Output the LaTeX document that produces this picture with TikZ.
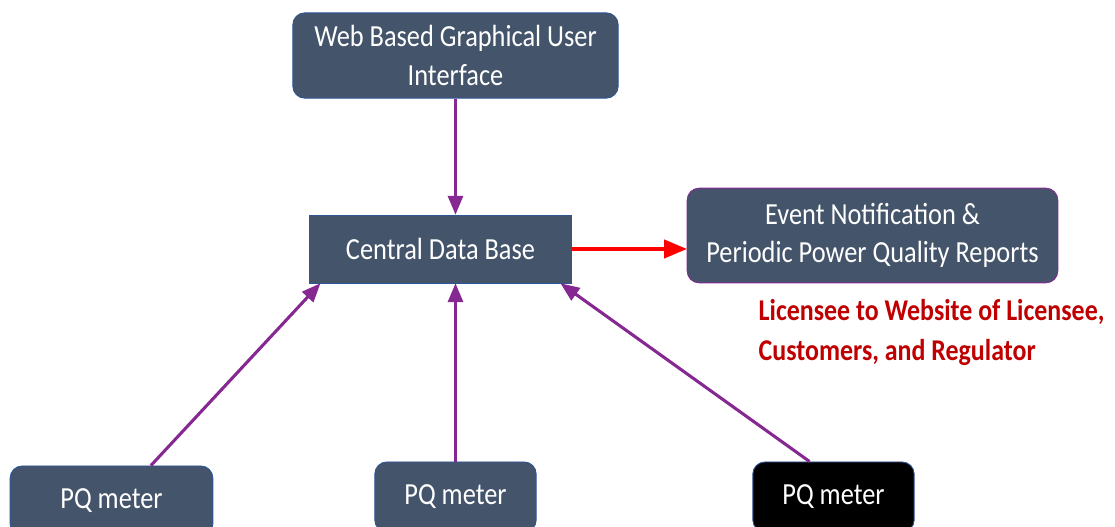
\documentclass[tikz,border=0pt]{standalone}
\usepackage{fontspec}
\setmainfont{Carlito}[FakeStretch=0.86]
\usepackage{xcolor}
\usetikzlibrary{arrows,shapes,calc}
\definecolor{slate}{HTML}{44546A}
\definecolor{boxedge}{HTML}{2F5597}
\definecolor{flow}{RGB}{134,40,145}
\definecolor{darkred}{HTML}{C00000}
\tikzstyle{unit}=[draw=boxedge, fill=slate, text=white, text centered,
  font=\fontsize{23}{29}\selectfont, line width=0.7pt]
\tikzstyle{roundunit}=[unit, rounded corners=9pt]
\tikzstyle{link}=[->, >=triangle 45, draw=flow, line width=2.3pt]

\begin{document}
\begin{tikzpicture}[x=0.75pt, y=-0.75pt]
  \clip (0,0) rectangle (1115,527);

  \node(gui)[roundunit, align=center, minimum width=244pt, minimum height=64pt]
    at (455.5,55.5) {Web Based Graphical User\\Interface};

  \node(db)[unit, minimum width=197pt, minimum height=51pt]
    at (440.5,249) {Central Data Base};
  \draw[link] (gui.south) -- (gui.south |- db.north);

  \node(report)[roundunit, draw=flow, align=center, minimum width=278pt, minimum height=71pt]
    at (872.5,235.5) {Event Notification \&\\Periodic Power Quality Reports};
  \draw[link, draw=red, line width=3pt] (db.east) -- (db.east -| report.west);

  \node(note)[anchor=west, align=left, text=darkred, font=\bfseries\fontsize{22.6}{30}\selectfont]
    at (754,332) {Licensee to Website of Licensee,\\Customers, and Regulator};

  % meters along the bottom edge
  \node(meterA)[roundunit, minimum width=152pt, minimum height=52.5pt]
    at (111.5,501) {PQ meter};
  \draw[link] (meterA.42) -- (db.196);

  \node(meterB)[roundunit, minimum width=121pt, minimum height=52.5pt]
    at (455.5,497) {PQ meter};
  \draw[link] (meterB.north) -- (meterB.north |- db.south);

  \node(meterC)[roundunit, fill=black, minimum width=121pt, minimum height=52.5pt]
    at (833.5,497) {PQ meter};
  \draw[link] (meterC.124) -- (db.344);
\end{tikzpicture}
\end{document}
